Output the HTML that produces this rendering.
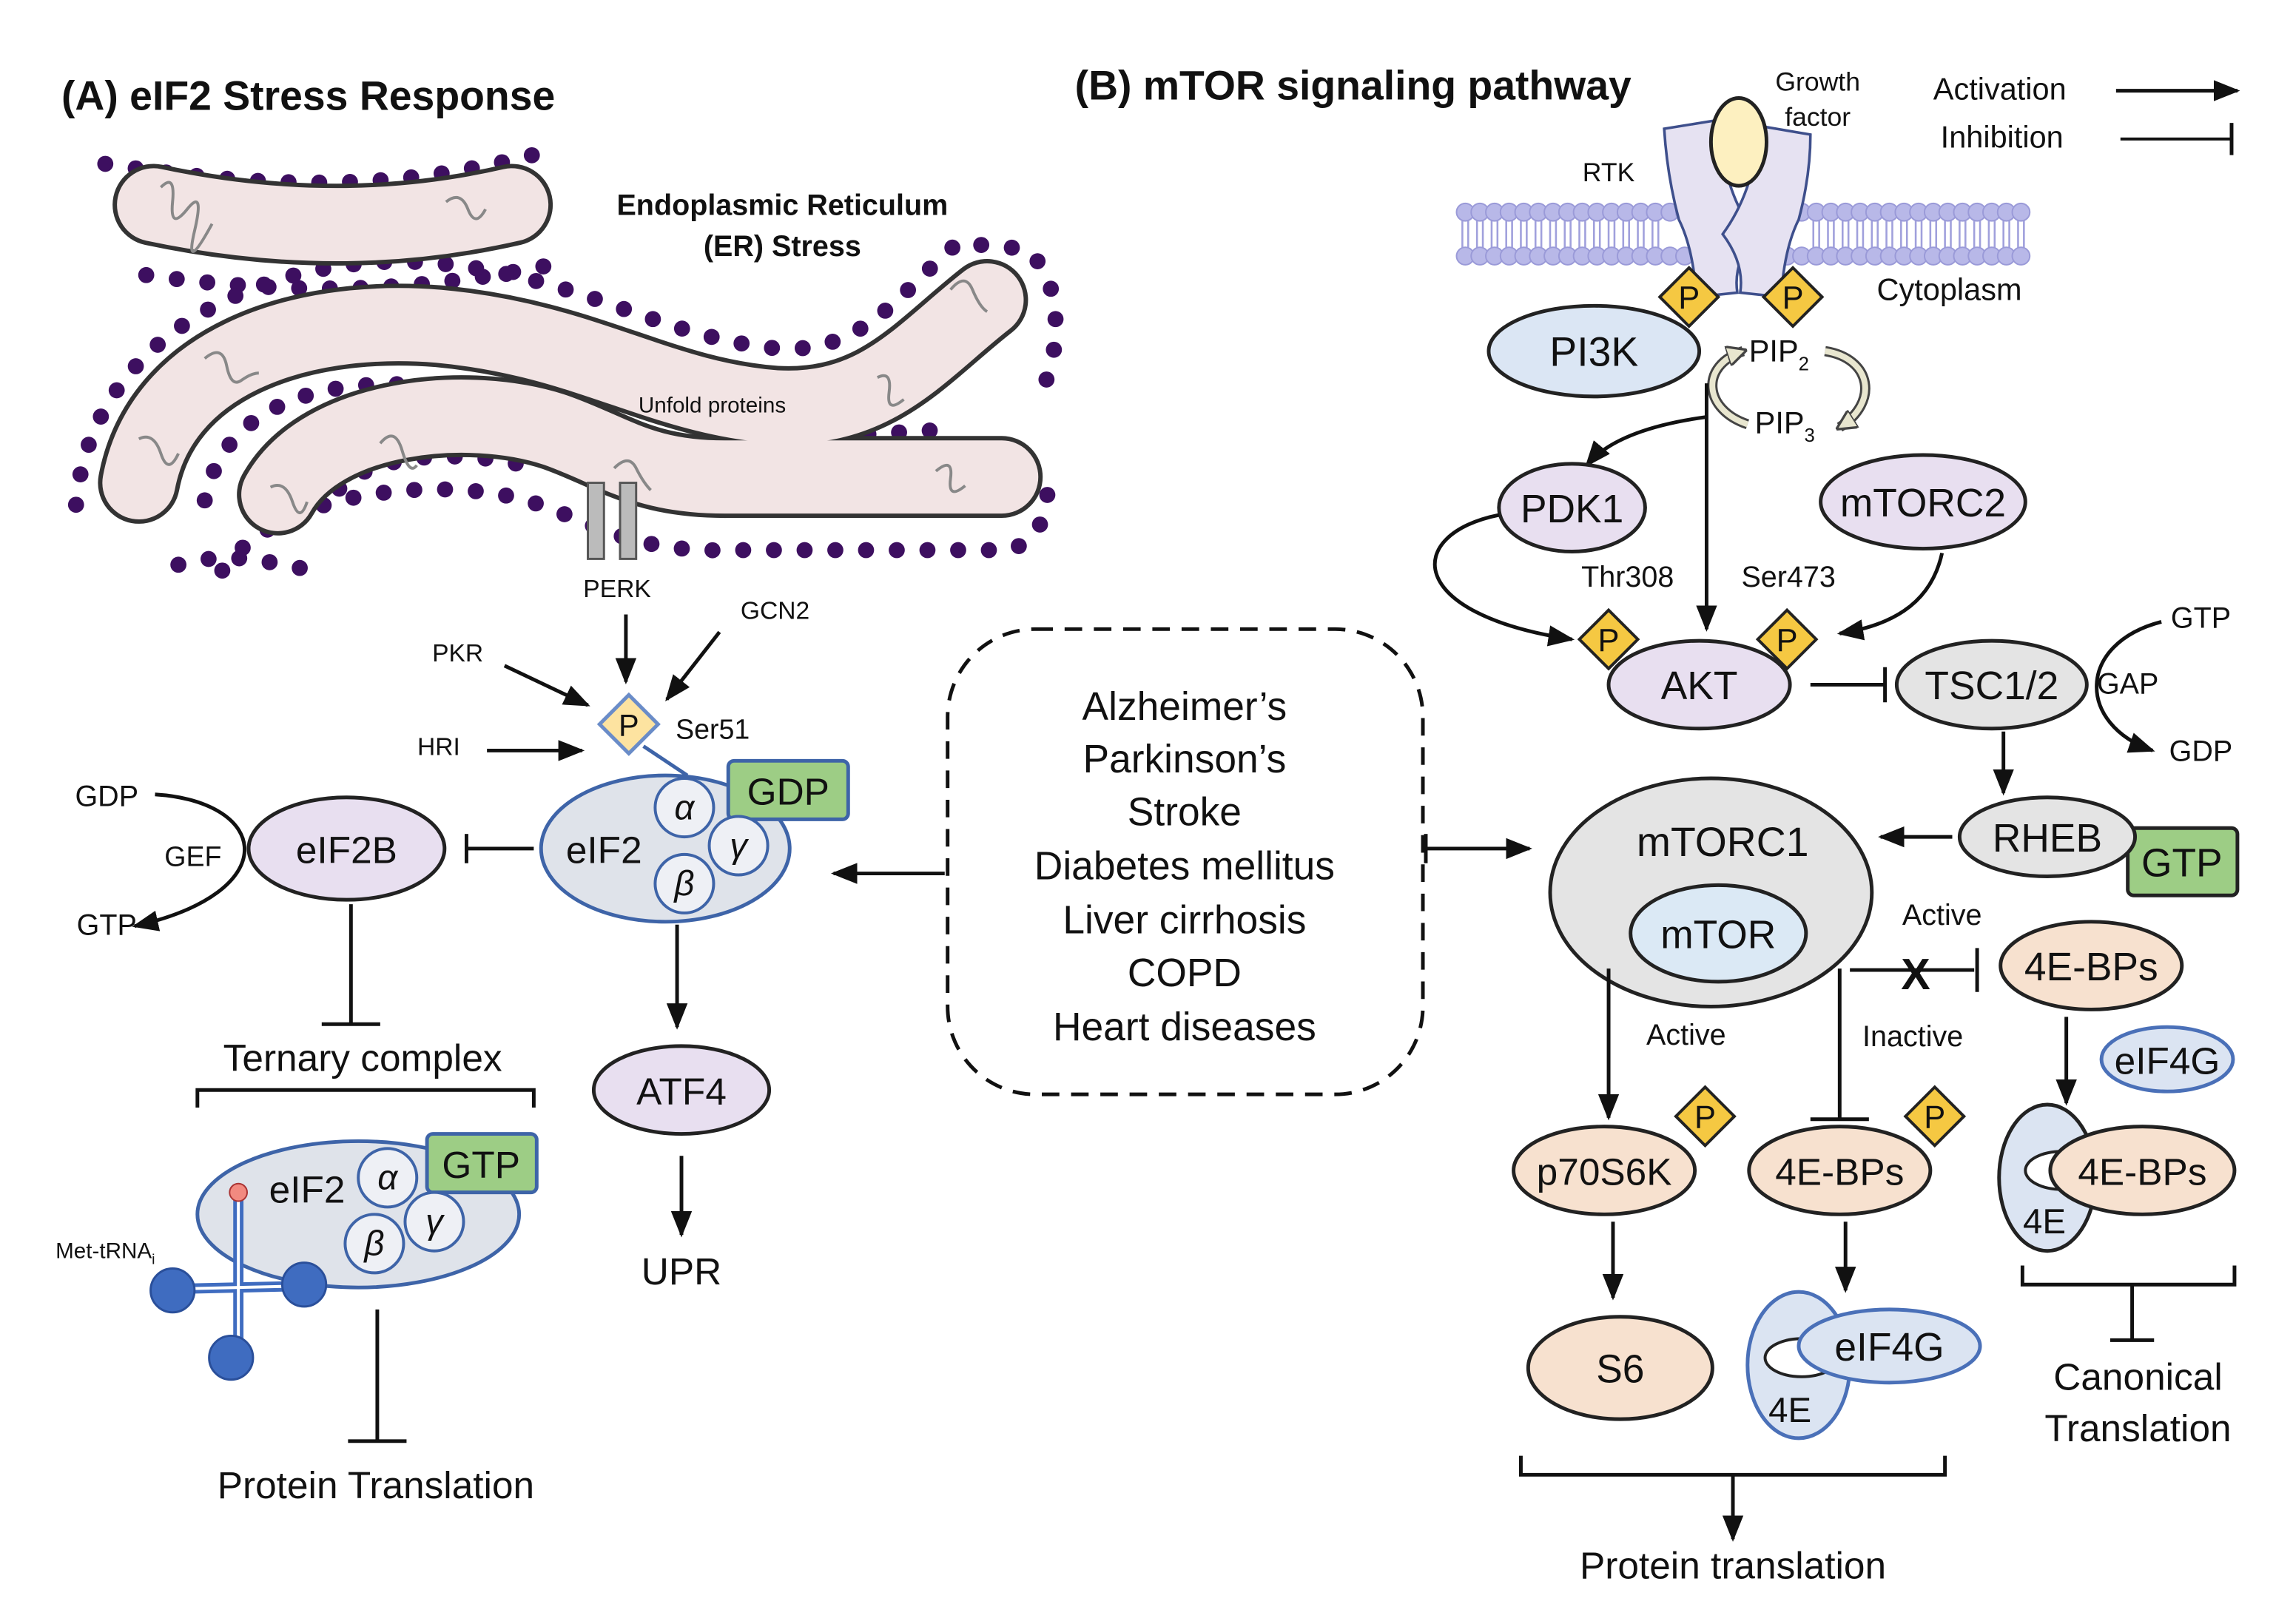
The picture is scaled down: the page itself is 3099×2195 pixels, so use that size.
<!DOCTYPE html>
<html><head><meta charset="utf-8"><style>
html,body{margin:0;padding:0;background:#fff}
svg{display:block}
text{font-family:"Liberation Sans",Arial,sans-serif;fill:#111}
</style></head><body>
<svg width="3099" height="2195" viewBox="0 0 1568 1110" preserveAspectRatio="none" xmlns="http://www.w3.org/2000/svg">
<defs>
<marker id="a" viewBox="0 0 10 10" refX="9" refY="5" markerWidth="18" markerHeight="18" orient="auto" markerUnits="userSpaceOnUse"><path d="M0,1 L10,5 L0,9 z" fill="#111"/></marker>
<marker id="g" viewBox="0 0 10 10" refX="8" refY="5" markerWidth="14" markerHeight="14" orient="auto" markerUnits="userSpaceOnUse"><path d="M0,0 L10,5 L0,10 z" fill="#e8e6cf" stroke="#444" stroke-width="1.2"/></marker>
</defs>

<!-- Titles -->
<text x="42" y="75" font-size="28" font-weight="bold">(A) eIF2 Stress Response</text>
<text x="735" y="68" font-size="28" font-weight="bold">(B) mTOR signaling pathway</text>
<!-- Legend -->
<text x="1322" y="68" font-size="21">Activation</text>
<line x1="1447" y1="62" x2="1530" y2="62" stroke="#111" stroke-width="2.5" marker-end="url(#a)"/>
<text x="1327" y="101" font-size="21">Inhibition</text>
<line x1="1450" y1="95" x2="1526" y2="95" stroke="#111" stroke-width="2"/>
<line x1="1526" y1="84" x2="1526" y2="106" stroke="#111" stroke-width="2.5"/>

<!-- ER -->
<g fill="none" stroke-linejoin="round">
 <g stroke="#3d0f60" stroke-width="11" stroke-dasharray="0 21" stroke-linecap="round">
  <path d="M72,112 C200,132 280,128 372,104"/>
  <path d="M100,188 C200,202 280,200 372,182"/>
  <path d="M52,345 C62,225 190,170 300,180 C400,190 450,230 530,238 C590,243 615,200 655,166 L700,170 C725,185 728,235 712,268"/>
  <path d="M140,342 C152,282 210,256 300,264 C370,270 395,282 412,289"/>
  <path d="M232,334 C255,310 320,305 372,322"/>
  <path d="M122,386 C160,376 180,384 225,392"/>
  <path d="M152,390 C190,335 300,325 360,342 C405,356 430,378 500,376 L690,376 C712,369 718,349 716,324"/>
  <path d="M510,302 L640,294"/>
 </g>
 <g stroke="#333" stroke-width="56" stroke-linecap="round">
  <path d="M105,140 C200,160 280,156 350,140"/>
  <path d="M95,330 C110,250 200,215 300,223 C400,232 450,272 530,278 C600,282 630,240 675,205"/>
  <path d="M190,338 C220,284 320,274 380,294 C420,308 440,327 500,326 L685,326"/>
 </g>
 <g stroke="#f2e4e4" stroke-width="50" stroke-linecap="round">
  <path d="M105,140 C200,160 280,156 350,140"/>
  <path d="M95,330 C110,250 200,215 300,223 C400,232 450,272 530,278 C600,282 630,240 675,205"/>
  <path d="M190,338 C220,284 320,274 380,294 C420,308 440,327 500,326 L685,326"/>
 </g>
 <g stroke="#888" stroke-width="2">
  <path d="M110,128 q10,-10 8,10 t10,5 t5,15 t12,-5"/>
  <path d="M305,138 q10,-8 15,5 t12,0"/>
  <path d="M140,245 q12,-10 15,5 t10,10 t12,-5"/>
  <path d="M95,300 q10,-5 15,10 t12,0"/>
  <path d="M650,198 q10,-12 15,0 t10,15"/>
  <path d="M600,258 q10,-5 8,10 t10,5"/>
  <path d="M260,303 q10,-12 15,5 t10,10"/>
  <path d="M185,333 q10,-5 15,10 t10,0"/>
  <path d="M640,322 q12,-10 10,5 t10,5"/>
  <path d="M420,320 q10,-10 15,0 t10,15"/>
 </g>
</g>
<rect x="402" y="330" width="11" height="52" fill="#bbb" stroke="#555" stroke-width="1.5"/>
<rect x="424" y="330" width="11" height="52" fill="#bbb" stroke="#555" stroke-width="1.5"/>
<text x="535" y="147" font-size="20" font-weight="bold" text-anchor="middle">Endoplasmic Reticulum</text>
<text x="535" y="175" font-size="20" font-weight="bold" text-anchor="middle">(ER) Stress</text>
<text x="487" y="282" font-size="15" text-anchor="middle">Unfold proteins</text>

<!-- kinases -->
<text x="422" y="408" font-size="17" text-anchor="middle">PERK</text>
<text x="530" y="423" font-size="17" text-anchor="middle">GCN2</text>
<text x="313" y="452" font-size="17" text-anchor="middle">PKR</text>
<text x="300" y="516" font-size="17" text-anchor="middle">HRI</text>
<g stroke="#111" stroke-width="2.5" fill="none" marker-end="url(#a)">
 <line x1="428" y1="420" x2="428" y2="466"/>
 <line x1="492" y1="432" x2="456" y2="478"/>
 <line x1="345" y1="455" x2="402" y2="482"/>
 <line x1="333" y1="513" x2="398" y2="513"/>
</g>
<line x1="440" y1="510" x2="470" y2="530" stroke="#3e64a8" stroke-width="2.5"/>
<path d="M430,475 L450,495 L430,515 L410,495 Z" fill="#fde3a0" stroke="#6a8cc8" stroke-width="2.5"/>
<text x="430" y="503" font-size="21" text-anchor="middle">P</text>
<text x="462" y="505" font-size="19">Ser51</text>

<!-- eIF2 complex -->
<ellipse cx="455" cy="580" rx="85" ry="50" fill="#dfe3ea" stroke="#3e64a8" stroke-width="2.5"/>
<rect x="498" y="520" width="82" height="40" rx="4" fill="#9dcd85" stroke="#3e64a8" stroke-width="2.5"/>
<text x="539" y="550" font-size="26" text-anchor="middle">GDP</text>
<g fill="#eef0f5" stroke="#3e64a8" stroke-width="2"><circle cx="468" cy="552" r="20"/><circle cx="505" cy="578" r="20"/><circle cx="468" cy="604" r="20"/></g>
<g font-family="Liberation Serif,serif" font-style="italic" font-size="24" text-anchor="middle"><text x="468" y="560">α</text><text x="505" y="586">γ</text><text x="468" y="612">β</text></g>
<text x="413" y="590" font-size="26" text-anchor="middle">eIF2</text>
<line x1="365" y1="580" x2="320" y2="580" stroke="#111" stroke-width="2.5"/>
<line x1="319" y1="570" x2="319" y2="590" stroke="#111" stroke-width="2.5"/>

<ellipse cx="237" cy="580" rx="67" ry="35" fill="#e8dff0" stroke="#222" stroke-width="2.5"/>
<text x="237" y="590" font-size="26" text-anchor="middle">eIF2B</text>
<text x="73" y="551" font-size="20" text-anchor="middle">GDP</text>
<text x="132" y="592" font-size="19" text-anchor="middle">GEF</text>
<text x="73" y="639" font-size="20" text-anchor="middle">GTP</text>
<path d="M106,543 C185,548 195,610 92,633" fill="none" stroke="#111" stroke-width="2.5" marker-end="url(#a)"/>

<line x1="240" y1="618" x2="240" y2="700" stroke="#111" stroke-width="2.5"/>
<line x1="220" y1="700" x2="260" y2="700" stroke="#111" stroke-width="2.5"/>
<text x="248" y="732" font-size="26" text-anchor="middle">Ternary complex</text>
<path d="M135,757 L135,745 L365,745 L365,757" fill="none" stroke="#111" stroke-width="2.5"/>

<!-- ternary complex -->
<ellipse cx="245" cy="830" rx="110" ry="50" fill="#dfe3ea" stroke="#3e64a8" stroke-width="2.5"/>
<rect x="292" y="775" width="75" height="40" rx="4" fill="#9dcd85" stroke="#3e64a8" stroke-width="2.5"/>
<text x="329" y="805" font-size="26" text-anchor="middle">GTP</text>
<g fill="#eef0f5" stroke="#3e64a8" stroke-width="2"><circle cx="265" cy="805" r="20"/><circle cx="297" cy="835" r="20"/><circle cx="256" cy="850" r="20"/></g>
<g font-family="Liberation Serif,serif" font-style="italic" font-size="24" text-anchor="middle"><text x="265" y="813">α</text><text x="297" y="843">γ</text><text x="256" y="858">β</text></g>
<text x="210" y="822" font-size="26" text-anchor="middle">eIF2</text>
<g stroke="#3f6cc0" stroke-width="7" fill="none"><line x1="163" y1="818" x2="163" y2="928"/><line x1="118" y1="881" x2="208" y2="879"/></g>
<g stroke="#fff" stroke-width="2" fill="none"><line x1="163" y1="820" x2="163" y2="926"/><line x1="120" y1="881" x2="206" y2="879"/></g>
<g fill="#3f6cc0" stroke="#2a4f9a" stroke-width="1.5"><circle cx="118" cy="882" r="15"/><circle cx="208" cy="878" r="15"/><circle cx="158" cy="928" r="15"/></g>
<circle cx="163" cy="815" r="6" fill="#f28a80" stroke="#a33" stroke-width="1"/>
<text x="38" y="860" font-size="15">Met-tRNA<tspan font-size="10" dy="4">i</tspan></text>
<line x1="258" y1="895" x2="258" y2="985" stroke="#111" stroke-width="2.5"/>
<line x1="238" y1="985" x2="278" y2="985" stroke="#111" stroke-width="2.5"/>
<text x="257" y="1024" font-size="26" text-anchor="middle">Protein Translation</text>

<!-- ATF4 -->
<line x1="463" y1="632" x2="463" y2="702" stroke="#111" stroke-width="2.5" marker-end="url(#a)"/>
<ellipse cx="466" cy="745" rx="60" ry="30" fill="#e8dff0" stroke="#222" stroke-width="2.5"/>
<text x="466" y="755" font-size="26" text-anchor="middle">ATF4</text>
<line x1="466" y1="790" x2="466" y2="844" stroke="#111" stroke-width="2.5" marker-end="url(#a)"/>
<text x="466" y="878" font-size="26" text-anchor="middle">UPR</text>

<!-- dashed box -->
<line x1="646" y1="597" x2="570" y2="597" stroke="#111" stroke-width="2.5" marker-end="url(#a)"/>
<rect x="648" y="430" width="325" height="318" rx="60" fill="none" stroke="#111" stroke-width="2.5" stroke-dasharray="12 8"/>
<g font-size="27" text-anchor="middle">
<text x="810" y="492">Alzheimer’s</text><text x="810" y="528">Parkinson’s</text><text x="810" y="564">Stroke</text>
<text x="810" y="601">Diabetes mellitus</text><text x="810" y="638">Liver cirrhosis</text><text x="810" y="674">COPD</text><text x="810" y="711">Heart diseases</text>
</g>
<line x1="975" y1="570" x2="975" y2="590" stroke="#111" stroke-width="2.5"/>
<line x1="975" y1="580" x2="1046" y2="580" stroke="#111" stroke-width="2.5" marker-end="url(#a)"/>

<!-- membrane -->
<g stroke="#a0a0dc" stroke-width="1.3">
 <path d="M1000,150 V170 M1004,150 V170 M1010,150 V170 M1014,150 V170 M1020,150 V170 M1024,150 V170 M1030,150 V170 M1034,150 V170 M1040,150 V170 M1044,150 V170 M1050,150 V170 M1054,150 V170 M1060,150 V170 M1064,150 V170 M1070,150 V170 M1074,150 V170 M1080,150 V170 M1084,150 V170 M1090,150 V170 M1094,150 V170 M1100,150 V170 M1104,150 V170 M1110,150 V170 M1114,150 V170 M1120,150 V170 M1124,150 V170 M1130,150 V170 M1134,150 V170"/>
 <path d="M1240,150 V170 M1244,150 V170 M1250,150 V170 M1254,150 V170 M1260,150 V170 M1264,150 V170 M1270,150 V170 M1274,150 V170 M1280,150 V170 M1284,150 V170 M1290,150 V170 M1294,150 V170 M1300,150 V170 M1304,150 V170 M1310,150 V170 M1314,150 V170 M1320,150 V170 M1324,150 V170 M1330,150 V170 M1334,150 V170 M1340,150 V170 M1344,150 V170 M1350,150 V170 M1354,150 V170 M1360,150 V170 M1364,150 V170 M1370,150 V170 M1374,150 V170 M1380,150 V170 M1384,150 V170"/>
</g>
<g fill="#b8b8e8" stroke="#9a9ad8" stroke-width="1">
<circle cx="1002" cy="145" r="6"/><circle cx="1012" cy="145" r="6"/><circle cx="1022" cy="145" r="6"/><circle cx="1032" cy="145" r="6"/><circle cx="1042" cy="145" r="6"/><circle cx="1052" cy="145" r="6"/><circle cx="1062" cy="145" r="6"/><circle cx="1072" cy="145" r="6"/><circle cx="1082" cy="145" r="6"/><circle cx="1092" cy="145" r="6"/><circle cx="1102" cy="145" r="6"/><circle cx="1112" cy="145" r="6"/><circle cx="1122" cy="145" r="6"/><circle cx="1132" cy="145" r="6"/><circle cx="1142" cy="145" r="6"/><circle cx="1152" cy="145" r="6"/><circle cx="1162" cy="145" r="6"/><circle cx="1172" cy="145" r="6"/><circle cx="1182" cy="145" r="6"/><circle cx="1192" cy="145" r="6"/><circle cx="1202" cy="145" r="6"/><circle cx="1212" cy="145" r="6"/><circle cx="1222" cy="145" r="6"/><circle cx="1232" cy="145" r="6"/><circle cx="1242" cy="145" r="6"/><circle cx="1252" cy="145" r="6"/><circle cx="1262" cy="145" r="6"/><circle cx="1272" cy="145" r="6"/><circle cx="1282" cy="145" r="6"/><circle cx="1292" cy="145" r="6"/><circle cx="1302" cy="145" r="6"/><circle cx="1312" cy="145" r="6"/><circle cx="1322" cy="145" r="6"/><circle cx="1332" cy="145" r="6"/><circle cx="1342" cy="145" r="6"/><circle cx="1352" cy="145" r="6"/><circle cx="1362" cy="145" r="6"/><circle cx="1372" cy="145" r="6"/><circle cx="1382" cy="145" r="6"/>
<circle cx="1002" cy="175" r="6"/><circle cx="1012" cy="175" r="6"/><circle cx="1022" cy="175" r="6"/><circle cx="1032" cy="175" r="6"/><circle cx="1042" cy="175" r="6"/><circle cx="1052" cy="175" r="6"/><circle cx="1062" cy="175" r="6"/><circle cx="1072" cy="175" r="6"/><circle cx="1082" cy="175" r="6"/><circle cx="1092" cy="175" r="6"/><circle cx="1102" cy="175" r="6"/><circle cx="1112" cy="175" r="6"/><circle cx="1122" cy="175" r="6"/><circle cx="1132" cy="175" r="6"/><circle cx="1142" cy="175" r="6"/><circle cx="1152" cy="175" r="6"/><circle cx="1162" cy="175" r="6"/><circle cx="1172" cy="175" r="6"/><circle cx="1182" cy="175" r="6"/><circle cx="1192" cy="175" r="6"/><circle cx="1202" cy="175" r="6"/><circle cx="1212" cy="175" r="6"/><circle cx="1222" cy="175" r="6"/><circle cx="1232" cy="175" r="6"/><circle cx="1242" cy="175" r="6"/><circle cx="1252" cy="175" r="6"/><circle cx="1262" cy="175" r="6"/><circle cx="1272" cy="175" r="6"/><circle cx="1282" cy="175" r="6"/><circle cx="1292" cy="175" r="6"/><circle cx="1302" cy="175" r="6"/><circle cx="1312" cy="175" r="6"/><circle cx="1322" cy="175" r="6"/><circle cx="1332" cy="175" r="6"/><circle cx="1342" cy="175" r="6"/><circle cx="1352" cy="175" r="6"/><circle cx="1362" cy="175" r="6"/><circle cx="1372" cy="175" r="6"/><circle cx="1382" cy="175" r="6"/>
</g>
<!-- RTK -->
<path d="M1138,88 L1175,82 Q1178,130 1200,160 Q1185,180 1188,200 L1160,203 Q1158,170 1148,150 Q1140,120 1138,88 Z" fill="#e6e2f2" stroke="#3e4f8c" stroke-width="1.8"/>
<path d="M1238,92 L1203,86 Q1200,130 1178,160 Q1193,180 1190,200 L1218,203 Q1220,170 1230,150 Q1238,120 1238,92 Z" fill="#e6e2f2" stroke="#3e4f8c" stroke-width="1.8"/>
<ellipse cx="1189" cy="97" rx="19" ry="30" fill="#fdf0c0" stroke="#222" stroke-width="2.5"/>
<text x="1243" y="62" font-size="18" text-anchor="middle">Growth</text>
<text x="1243" y="86" font-size="18" text-anchor="middle">factor</text>
<text x="1100" y="124" font-size="18" text-anchor="middle">RTK</text>
<text x="1333" y="205" font-size="21" text-anchor="middle">Cytoplasm</text>

<ellipse cx="1090" cy="240" rx="72" ry="31" fill="#dbe6f4" stroke="#222" stroke-width="2.5"/>
<text x="1090" y="250" font-size="28" text-anchor="middle">PI3K</text>
<g fill="#f5c842" stroke="#222" stroke-width="2"><path d="M1155,183 L1175,203 L1155,223 L1135,203 Z"/><path d="M1226,183 L1246,203 L1226,223 L1206,203 Z"/></g>
<text x="1155" y="211" font-size="22" text-anchor="middle">P</text><text x="1226" y="211" font-size="22" text-anchor="middle">P</text>

<text x="1196" y="247" font-size="21">PIP<tspan font-size="13" dy="6">2</tspan></text>
<text x="1200" y="296" font-size="21">PIP<tspan font-size="13" dy="6">3</tspan></text>
<path d="M1248,240 C1280,245 1285,275 1258,292" fill="none" stroke="#444" stroke-width="7"/>
<path d="M1248,240 C1280,245 1285,275 1258,292" fill="none" stroke="#e8e6cf" stroke-width="4" marker-end="url(#g)"/>
<path d="M1195,290 C1165,280 1162,250 1192,240" fill="none" stroke="#444" stroke-width="7"/>
<path d="M1195,290 C1165,280 1162,250 1192,240" fill="none" stroke="#e8e6cf" stroke-width="4" marker-end="url(#g)"/>
<line x1="1167" y1="262" x2="1167" y2="430" stroke="#111" stroke-width="2.5" marker-end="url(#a)"/>
<path d="M1167,285 C1130,290 1100,300 1085,318" fill="none" stroke="#111" stroke-width="2.5" marker-end="url(#a)"/>

<ellipse cx="1075" cy="347" rx="50" ry="30" fill="#e8dff0" stroke="#222" stroke-width="2.5"/>
<text x="1075" y="357" font-size="27" text-anchor="middle">PDK1</text>
<ellipse cx="1315" cy="343" rx="70" ry="32" fill="#e8dff0" stroke="#222" stroke-width="2.5"/>
<text x="1315" y="353" font-size="27" text-anchor="middle">mTORC2</text>
<text x="1113" y="401" font-size="20" text-anchor="middle">Thr308</text>
<text x="1223" y="401" font-size="20" text-anchor="middle">Ser473</text>
<path d="M1025,352 C960,365 960,420 1075,437" fill="none" stroke="#111" stroke-width="2.5" marker-end="url(#a)"/>
<path d="M1328,378 C1320,415 1290,428 1258,433" fill="none" stroke="#111" stroke-width="2.5" marker-end="url(#a)"/>

<ellipse cx="1162" cy="468" rx="62" ry="30" fill="#e8dff0" stroke="#222" stroke-width="2.5"/>
<text x="1162" y="478" font-size="27" text-anchor="middle">AKT</text>
<g fill="#f5c842" stroke="#222" stroke-width="2"><path d="M1100,417 L1120,437 L1100,457 L1080,437 Z"/><path d="M1222,417 L1242,437 L1222,457 L1202,437 Z"/></g>
<text x="1100" y="445" font-size="22" text-anchor="middle">P</text><text x="1222" y="445" font-size="22" text-anchor="middle">P</text>
<line x1="1238" y1="468" x2="1288" y2="468" stroke="#111" stroke-width="2.5"/>
<line x1="1289" y1="456" x2="1289" y2="480" stroke="#111" stroke-width="2.5"/>

<ellipse cx="1362" cy="468" rx="65" ry="30" fill="#e4e4e4" stroke="#222" stroke-width="2.5"/>
<text x="1362" y="478" font-size="27" text-anchor="middle">TSC1/2</text>
<text x="1455" y="474" font-size="20" text-anchor="middle">GAP</text>
<text x="1505" y="429" font-size="20" text-anchor="middle">GTP</text>
<text x="1505" y="520" font-size="20" text-anchor="middle">GDP</text>
<path d="M1478,425 C1420,440 1420,495 1472,513" fill="none" stroke="#111" stroke-width="2.5" marker-end="url(#a)"/>
<line x1="1370" y1="500" x2="1370" y2="542" stroke="#111" stroke-width="2.5" marker-end="url(#a)"/>

<rect x="1455" y="566" width="75" height="46" rx="4" fill="#9dcd85" stroke="#222" stroke-width="2.5"/>
<text x="1492" y="599" font-size="27" text-anchor="middle">GTP</text>
<ellipse cx="1400" cy="572" rx="60" ry="27" fill="#e4e4e4" stroke="#222" stroke-width="2.5"/>
<text x="1400" y="582" font-size="27" text-anchor="middle">RHEB</text>
<line x1="1335" y1="572" x2="1286" y2="572" stroke="#111" stroke-width="2.5" marker-end="url(#a)"/>

<ellipse cx="1170" cy="610" rx="110" ry="78" fill="#e4e4e4" stroke="#222" stroke-width="2.5"/>
<text x="1178" y="585" font-size="28" text-anchor="middle">mTORC1</text>
<ellipse cx="1175" cy="638" rx="60" ry="33" fill="#dbe9f5" stroke="#222" stroke-width="2.5"/>
<text x="1175" y="648" font-size="27" text-anchor="middle">mTOR</text>

<text x="1328" y="632" font-size="20" text-anchor="middle">Active</text>
<line x1="1265" y1="663" x2="1350" y2="663" stroke="#111" stroke-width="2.5"/>
<line x1="1352" y1="648" x2="1352" y2="678" stroke="#111" stroke-width="2.5"/>
<text x="1310" y="676" font-size="30" font-weight="bold" text-anchor="middle">X</text>
<ellipse cx="1430" cy="660" rx="62" ry="30" fill="#f7e1cf" stroke="#222" stroke-width="2.5"/>
<text x="1430" y="670" font-size="27" text-anchor="middle">4E-BPs</text>

<line x1="1100" y1="662" x2="1100" y2="764" stroke="#111" stroke-width="2.5" marker-end="url(#a)"/>
<text x="1153" y="714" font-size="20" text-anchor="middle">Active</text>
<line x1="1258" y1="662" x2="1258" y2="764" stroke="#111" stroke-width="2.5"/>
<line x1="1238" y1="765" x2="1278" y2="765" stroke="#111" stroke-width="2.5"/>
<text x="1308" y="715" font-size="20" text-anchor="middle">Inactive</text>

<ellipse cx="1097" cy="800" rx="62" ry="30" fill="#f7e1cf" stroke="#222" stroke-width="2.5"/>
<text x="1097" y="810" font-size="26" text-anchor="middle">p70S6K</text>
<ellipse cx="1258" cy="800" rx="62" ry="30" fill="#f7e1cf" stroke="#222" stroke-width="2.5"/>
<text x="1258" y="810" font-size="26" text-anchor="middle">4E-BPs</text>
<g fill="#f5c842" stroke="#222" stroke-width="2"><path d="M1166,743 L1186,763 L1166,783 L1146,763 Z"/><path d="M1323,743 L1343,763 L1323,783 L1303,763 Z"/></g>
<text x="1166" y="771" font-size="22" text-anchor="middle">P</text><text x="1323" y="771" font-size="22" text-anchor="middle">P</text>

<line x1="1103" y1="835" x2="1103" y2="887" stroke="#111" stroke-width="2.5" marker-end="url(#a)"/>
<ellipse cx="1108" cy="935" rx="63" ry="35" fill="#f7e1cf" stroke="#222" stroke-width="2.5"/>
<text x="1108" y="945" font-size="27" text-anchor="middle">S6</text>
<line x1="1262" y1="835" x2="1262" y2="882" stroke="#111" stroke-width="2.5" marker-end="url(#a)"/>
<ellipse cx="1230" cy="933" rx="35" ry="50" fill="#dbe4f2" stroke="#4a70b8" stroke-width="2.5"/>
<ellipse cx="1232" cy="928" rx="25" ry="13" fill="#fff" stroke="#222" stroke-width="2"/>
<ellipse cx="1292" cy="920" rx="62" ry="25" fill="#dbe4f2" stroke="#4a70b8" stroke-width="2.5"/>
<text x="1292" y="930" font-size="27" text-anchor="middle">eIF4G</text>
<text x="1224" y="972" font-size="24" text-anchor="middle">4E</text>

<path d="M1040,995 L1040,1008 L1330,1008 L1330,995" fill="none" stroke="#111" stroke-width="2.5"/>
<line x1="1185" y1="1008" x2="1185" y2="1052" stroke="#111" stroke-width="2.5" marker-end="url(#a)"/>
<text x="1185" y="1079" font-size="26" text-anchor="middle">Protein translation</text>

<line x1="1413" y1="695" x2="1413" y2="754" stroke="#111" stroke-width="2.5" marker-end="url(#a)"/>
<ellipse cx="1482" cy="724" rx="45" ry="22" fill="#dbe4f2" stroke="#4a70b8" stroke-width="2.5"/>
<text x="1482" y="734" font-size="26" text-anchor="middle">eIF4G</text>
<ellipse cx="1400" cy="805" rx="33" ry="50" fill="#dbe4f2" stroke="#222" stroke-width="2.5"/>
<ellipse cx="1410" cy="800" rx="25" ry="13" fill="#fff" stroke="#222" stroke-width="2"/>
<ellipse cx="1465" cy="800" rx="63" ry="30" fill="#f7e1cf" stroke="#222" stroke-width="2.5"/>
<text x="1465" y="810" font-size="26" text-anchor="middle">4E-BPs</text>
<text x="1398" y="843" font-size="24" text-anchor="middle">4E</text>

<path d="M1383,865 L1383,878 L1528,878 L1528,865" fill="none" stroke="#111" stroke-width="2.5"/>
<line x1="1458" y1="878" x2="1458" y2="916" stroke="#111" stroke-width="2.5"/>
<line x1="1443" y1="916" x2="1473" y2="916" stroke="#111" stroke-width="2.5"/>
<text x="1462" y="950" font-size="26" text-anchor="middle">Canonical</text>
<text x="1462" y="985" font-size="26" text-anchor="middle">Translation</text>
</svg>
</body></html>
